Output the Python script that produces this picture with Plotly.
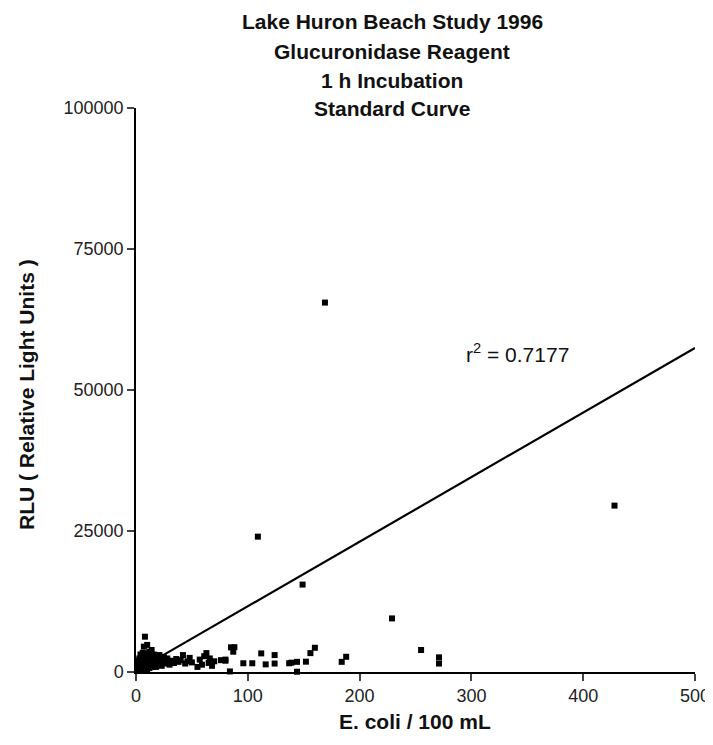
import plotly.graph_objects as go

# E. coli counts (per 100 mL) and RLU readings
ecoli = [1, 1, 2, 2, 3, 3, 3, 4, 4, 5, 5, 5, 6, 6, 6, 7, 7, 7, 8, 8, 8, 9, 9, 9, 10, 10, 10, 11, 11,
         12, 12, 13, 13, 14, 14, 15, 15, 16, 16, 17, 18, 18, 19, 20, 20, 21, 22, 23, 24, 25, 26, 27,
         28, 30, 32, 34, 36, 38, 40, 42, 44, 46, 48, 50, 55, 57, 59, 61, 63, 65, 66, 68, 70, 76, 80,
         80, 84, 85, 87, 88, 96, 104, 109, 112, 116, 124, 124, 137, 139, 144, 144, 149, 152, 156, 160,
         169, 184, 188, 229, 255, 271, 271, 428]
rlu = [800, 2000, 1500, 400, 2400, 600, 1100, 3100, 1800, 1200, 300, 2600, 2000, 900, 3400, 4500,
       1600, 600, 6260, 2600, 1300, 1100, 3300, 2200, 4800, 1900, 400, 2900, 1300, 3600, 700, 2200,
       1500, 3900, 900, 2600, 1700, 1200, 3100, 2000, 2500, 900, 1700, 2300, 1400, 3000, 1800, 1100,
       2200, 2600, 1500, 1900, 2400, 1300, 2000, 1600, 2300, 1800, 2100, 3000, 1500, 1900, 2500,
       1700, 900, 2200, 1300, 2800, 3350, 1600, 2400, 1100, 1900, 2100, 2000, 2200, 100, 4370, 3600,
       4400, 1550, 1550, 24000, 3300, 1350, 3000, 1500, 1550, 1650, 1800, 50, 15500, 1830, 3350, 4300,
       65500, 1800, 2700, 9500, 3900, 2600, 1500, 29500]

# Linear fit shown on the chart
fit_x = [10, 500]
fit_slope = 114.5
fit_intercept = 200
fit_y = [fit_slope * v + fit_intercept for v in fit_x]
r_squared = "0.7177"

title_lines = ["Lake Huron Beach Study 1996", "Glucuronidase Reagent", "1 h Incubation", "Standard Curve"]
x_ticks = [0, 100, 200, 300, 400, 500]
y_ticks = [0, 25000, 50000, 75000, 100000]

FONT = "Liberation Sans, Arial, sans-serif"

# The page body has an 8 px margin; work in page pixels of the 713x745 window.
OFF = 8
W, H = 713 - OFF, 745 - OFF
PL, PR, PT, PB = 136, 695, 108, 672          # plot-area edges in page pixels
L, R, T, B = PL - OFF, W - (PR - OFF), PT - OFF, H - (PB - OFF)
PW, PH = PR - PL, PB - PT


def px_to_paper(xp, yp):
    return (xp - PL) / PW, (PB - yp) / PH


fig = go.Figure()
fig.add_trace(go.Scatter(x=fit_x, y=fit_y, mode="lines",
                         line=dict(color="black", width=2.2), hoverinfo="skip"))
fig.add_trace(go.Scatter(x=ecoli, y=rlu, mode="markers", cliponaxis=False,
                         marker=dict(symbol="square", size=6, color="black",
                                     line=dict(width=0))))

# title, one line at a time
for i, line in enumerate(title_lines):
    xp, yp = px_to_paper(392, 22 + 29 * i)
    fig.add_annotation(x=xp, y=yp, xref="paper", yref="paper", xanchor="center", yanchor="middle",
                       showarrow=False, text="<b>" + line + "</b>",
                       font=dict(family=FONT, size=21, color="#111"))

# axis titles
xp, yp = px_to_paper(415, 721)
fig.add_annotation(x=xp, y=yp, xref="paper", yref="paper", xanchor="center", yanchor="middle",
                   showarrow=False, text="<b>E. coli / 100 mL</b>",
                   font=dict(family=FONT, size=21, color="#111"))
xp, yp = px_to_paper(26, 395)
fig.add_annotation(x=xp, y=yp, xref="paper", yref="paper", xanchor="center", yanchor="middle",
                   showarrow=False, textangle=-90, text="<b>RLU ( Relative Light Units )</b>",
                   font=dict(family=FONT, size=21, color="#111"))

# r squared label
fig.add_annotation(x=293, y=56500, xref="x", yref="y", xanchor="left", yanchor="middle",
                   showarrow=False, text="r<sup>2</sup> = " + r_squared,
                   font=dict(family=FONT, size=21, color="#111"))

fig.update_layout(
    width=W, height=H,
    margin=dict(l=L, r=R, t=T, b=B, autoexpand=False),
    paper_bgcolor="white", plot_bgcolor="white",
    showlegend=False,
    font=dict(family=FONT, color="#222"),
)
fig.update_xaxes(range=[0, 500], tickvals=x_ticks, ticks="outside", ticklen=7, tickwidth=1.5,
                 showline=True, linecolor="black", linewidth=1.5, showgrid=False, zeroline=False,
                 automargin=False, tickformat="d",
                 tickfont=dict(size=18, family=FONT, color="#222"))
fig.update_yaxes(range=[0, 100000], tickvals=y_ticks, ticks="outside", ticklen=7, tickwidth=1.5,
                 showline=True, linecolor="black", linewidth=1.5, showgrid=False, zeroline=False,
                 automargin=False, tickformat="d",
                 tickfont=dict(size=18, family=FONT, color="#222"))

fig.write_html("out.html")
